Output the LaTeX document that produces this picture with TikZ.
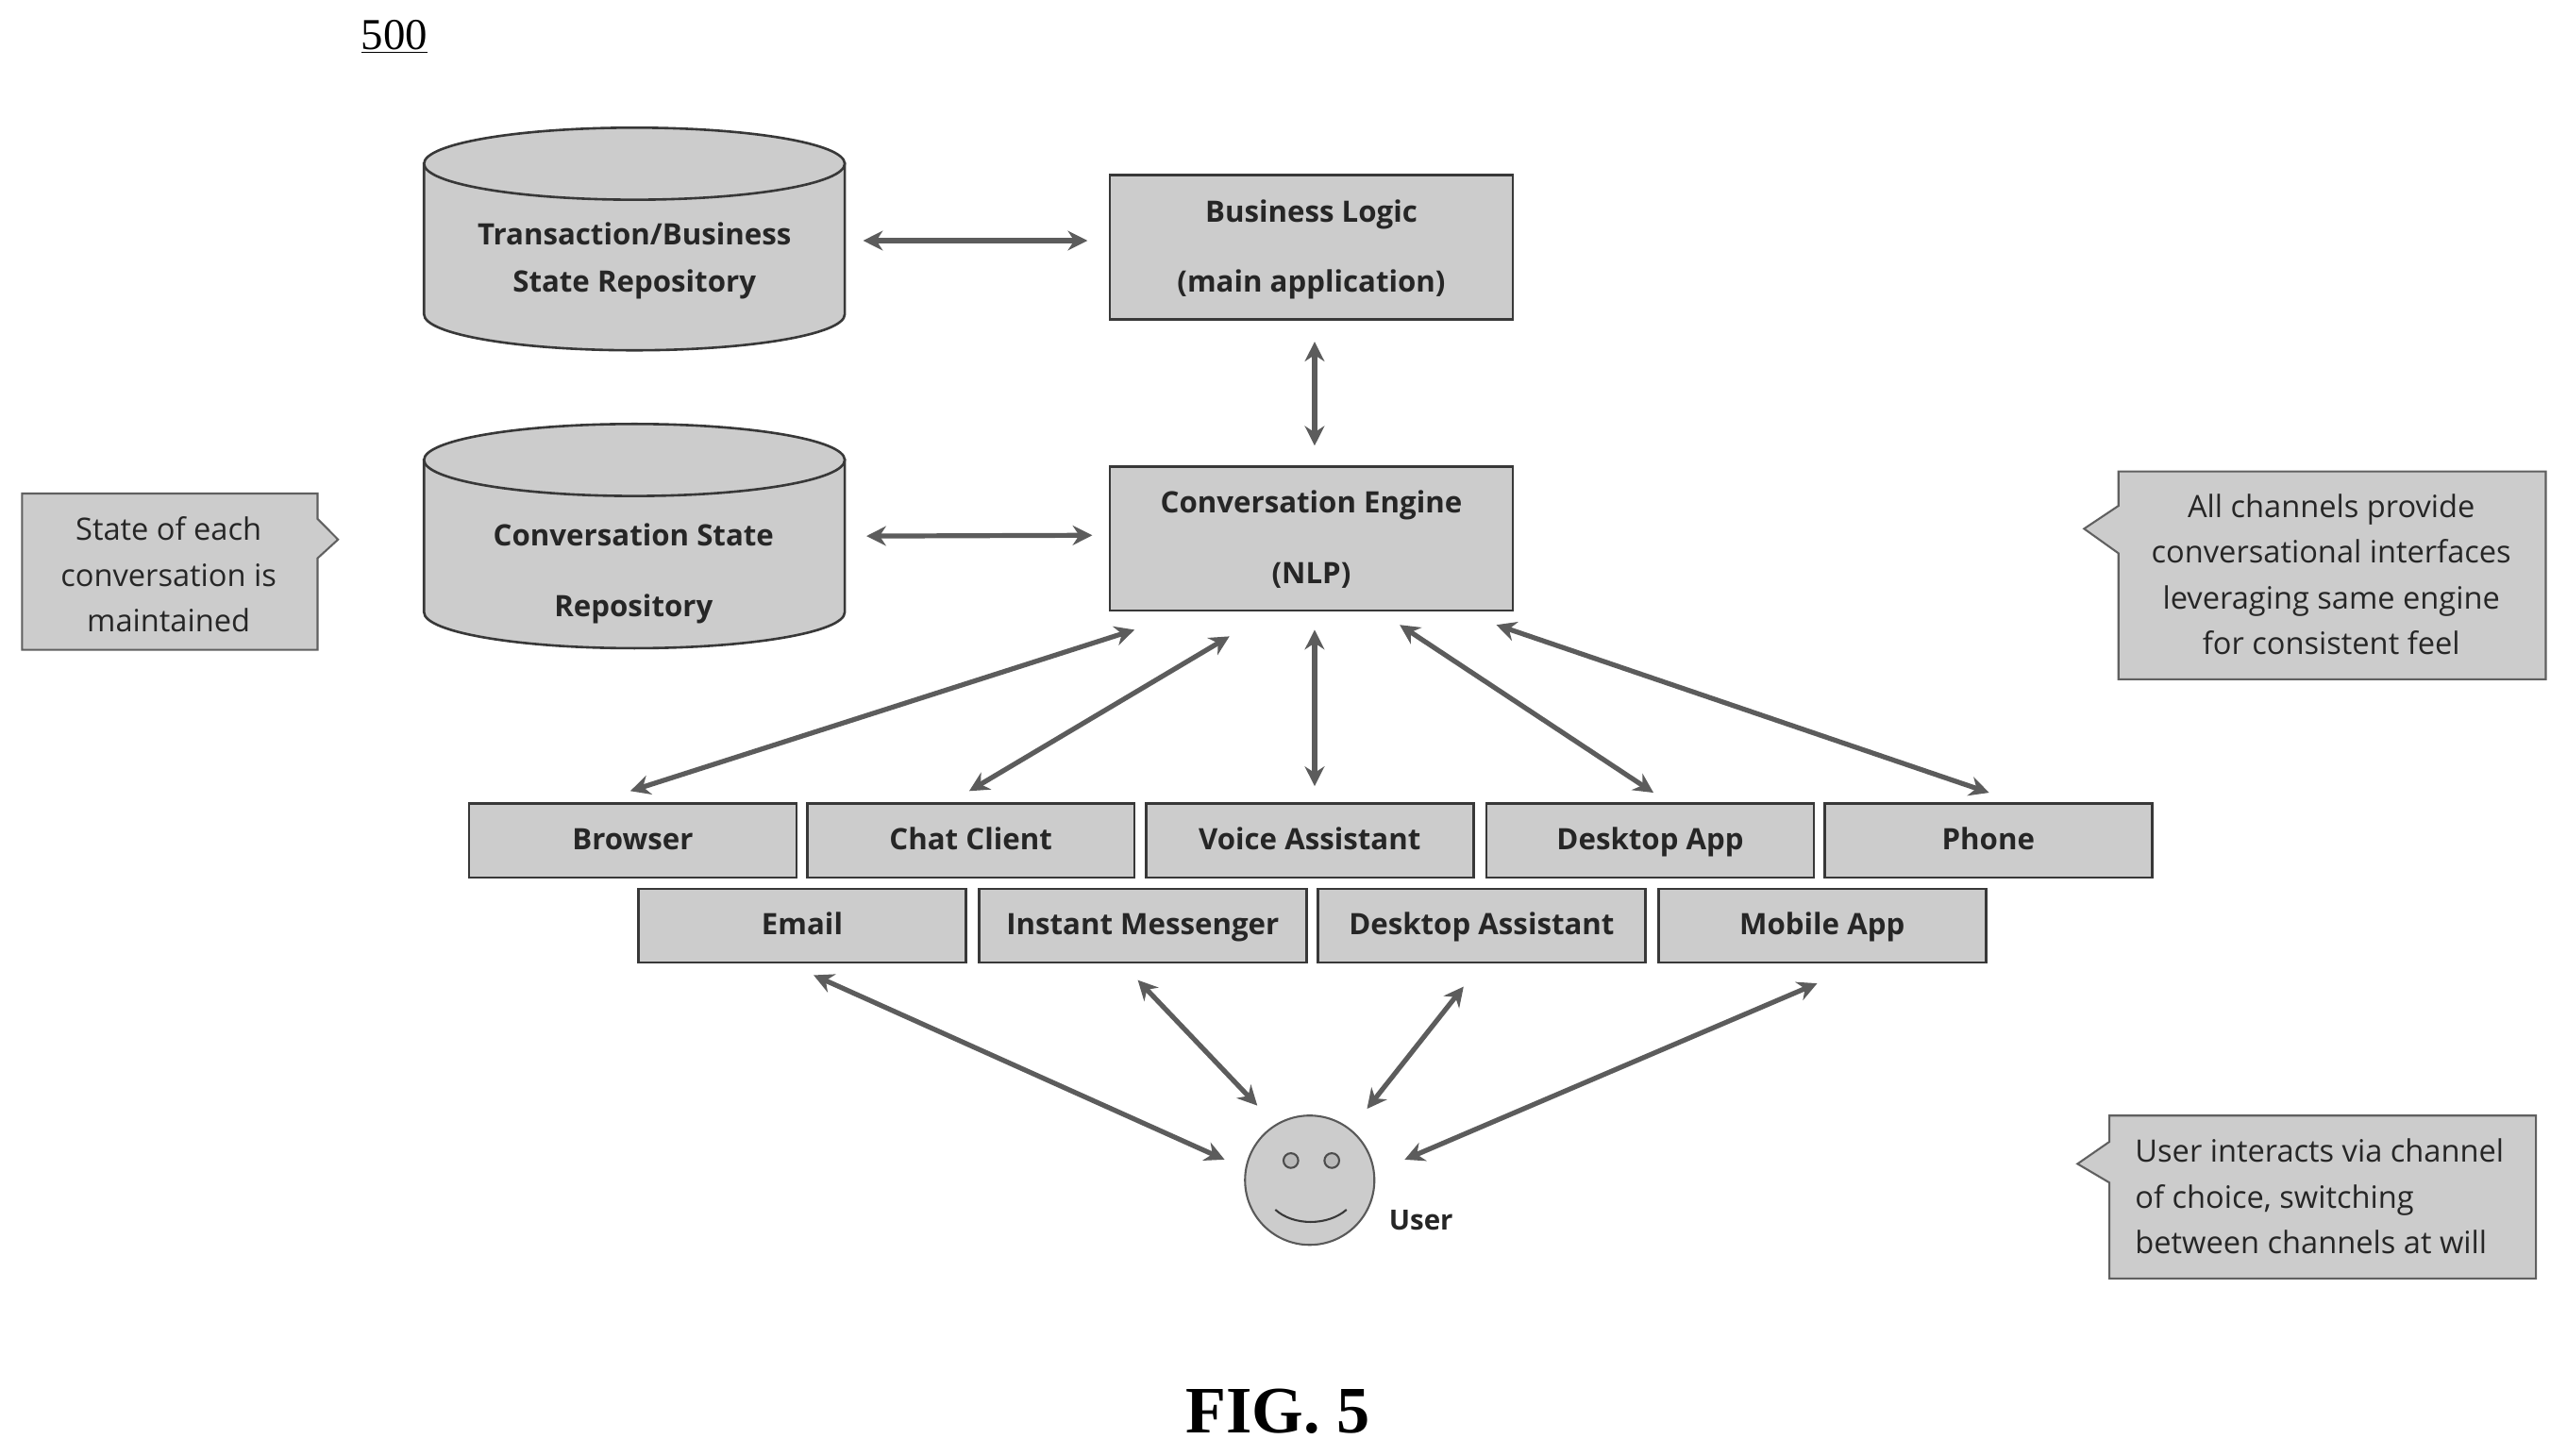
\documentclass[tikz,border=0pt]{standalone}
\usepackage{fontspec}
\setmainfont{Open Sans}
\newfontfamily\timesf{Liberation Serif}
\usetikzlibrary{shapes.geometric,arrows.meta,calc}
\definecolor{fillg}{gray}{0.80}
\definecolor{edgeg}{gray}{0.22}
\definecolor{arrowg}{gray}{0.36}
\definecolor{textg}{gray}{0.15}
\tikzset{
  x=1pt,y=-1pt,
  boxn/.style={draw=edgeg,line width=1.5pt,fill=fillg,rectangle,inner sep=0pt,text=textg,font=\fontsize{18}{22}\selectfont\bfseries,align=center},
  chan/.style={boxn,minimum width=200pt,minimum height=45pt,text height=14.5pt,text depth=3pt},
  main/.style={boxn,minimum width=246pt,minimum height=88pt},
  cyl/.style={draw=edgeg,line width=1.5pt,fill=fillg},
  cylanchor/.style={rectangle,minimum width=257pt,minimum height=136pt,inner sep=0pt},
  cyltext/.style={text=textg,font=\fontsize{18}{22}\selectfont\bfseries,align=center,inner sep=0pt},
  dbl/.style={{Stealth[length=12pt,width=12pt]}-{Stealth[length=12pt,width=12pt]},draw=arrowg,line width=3pt},
  callout/.style={draw=gray!75!black,line width=1.2pt,fill=fillg,line join=miter},
  calltext/.style={text=textg,font=\fontsize{18.8}{28}\selectfont,inner sep=0pt},
}
\begin{document}
\begin{tikzpicture}
\useasboundingbox (0,0) rectangle (1568,889);
\fill[white] (0,0) rectangle (1568,889);

\node[font=\timesf\fontsize{27}{30}\selectfont,text=black,inner sep=0pt] (ref) at (241,22.5) {\underline{500}};

% repositories
\path[cyl] (259,100) -- (259,192) .. controls (259,204.2) and (316.5,214) .. (387.5,214) .. controls (458.5,214) and (516,204.2) .. (516,192) -- (516,100) -- cycle;
\path[cyl] (259,100) .. controls (259,87.8) and (316.5,78) .. (387.5,78) .. controls (458.5,78) and (516,87.8) .. (516,100) .. controls (516,112.2) and (458.5,122) .. (387.5,122) .. controls (316.5,122) and (259,112.2) .. (259,100) -- cycle;
\node[cylanchor] (txrepo) at (387.5,146) {};
\node[cyltext] (txtext) at (387.5,159.5) {Transaction/Business\\[7pt]State Repository};
\path[cyl] (259,281) -- (259,374) .. controls (259,386.2) and (316.5,396) .. (387.5,396) .. controls (458.5,396) and (516,386.2) .. (516,374) -- (516,281) -- cycle;
\path[cyl] (259,281) .. controls (259,268.8) and (316.5,259) .. (387.5,259) .. controls (458.5,259) and (516,268.8) .. (516,281) .. controls (516,293.2) and (458.5,303) .. (387.5,303) .. controls (316.5,303) and (259,293.2) .. (259,281) -- cycle;
\node[cylanchor] (convrepo) at (387.5,327.5) {};
\node[cyltext] (convtext) at (387,350.5) {Conversation State\\[21pt]Repository};

% main boxes
\node[main] (logic) at (801,151) {\rule{0pt}{16.5pt}Business Logic\\[21pt](main application)};
\node[main] (engine) at (801,329) {\rule{0pt}{15pt}Conversation Engine\\[21pt](NLP)};

% channels
\node[chan] (browser) at (386.5,513.5) {Browser};
\node[chan] (chat) at (593,513.5) {Chat Client};
\node[chan] (voice) at (800,513.5) {Voice Assistant};
\node[chan] (desk) at (1008,513.5) {Desktop App};
\node[chan] (phone) at (1214.5,513.5) {Phone};
\node[chan] (email) at (490,565.5) {Email};
\node[chan] (im) at (698,565.5) {Instant Messenger};
\node[chan] (dassist) at (905,565.5) {Desktop Assistant};
\node[chan] (mobile) at (1113,565.5) {Mobile App};

% user
\node[circle,draw=gray!70!black,line width=1.2pt,fill=fillg,minimum size=79pt,inner sep=0pt] (user) at (800,721) {};
\node[circle,draw=gray!60!black,line width=1.2pt,fill=gray!55,minimum size=9pt,inner sep=0pt] (eyeL) at (788.5,709) {};
\node[circle,draw=gray!60!black,line width=1.2pt,fill=gray!55,minimum size=9pt,inner sep=0pt] (eyeR) at (813.5,709) {};
\draw[gray!45!black,line width=1.2pt] (779,739) .. controls (790,749) and (811,749) .. (822.5,739);
\node[font=\fontsize{17}{20}\selectfont\bfseries,text=textg,inner sep=0pt] (userlabel) at (868,745.5) {User};

% connectors
\draw[dbl] ([xshift=11pt,yshift=-1pt]txrepo.east) -- ([xshift=-13pt,yshift=4pt]logic.west);
\draw[dbl] ([xshift=2pt,yshift=-13pt]logic.south) -- ([xshift=2pt,yshift=12pt]engine.north);
\draw[dbl] ([xshift=13pt]convrepo.east) -- ([xshift=-10pt,yshift=2pt]engine.west);
\draw[dbl] ([xshift=-1.5pt,yshift=7pt]browser.north) -- ([xshift=-108pt,yshift=-11pt]engine.south);
\draw[dbl] ([xshift=-1pt,yshift=7pt]chat.north) -- ([xshift=-50pt,yshift=-15pt]engine.south);
\draw[dbl] ([xshift=3pt,yshift=10pt]voice.north) -- ([xshift=2pt,yshift=-11pt]engine.south);
\draw[dbl] ([xshift=2pt,yshift=6pt]desk.north) -- ([xshift=54pt,yshift=-8pt]engine.south);
\draw[dbl] ([xshift=0.5pt,yshift=6pt]phone.north) -- ([xshift=113pt,yshift=-8pt]engine.south);
\draw[dbl] ([xshift=7pt,yshift=-7pt]email.south) -- ([xshift=-52pt,yshift=-27.5pt]user.north);
\draw[dbl] ([xshift=-3pt,yshift=-10pt]im.south) -- ([xshift=-32pt,yshift=5.5pt]user.north);
\draw[dbl] ([xshift=-11pt,yshift=-14pt]dassist.south) -- ([xshift=35pt,yshift=3.5pt]user.north);
\draw[dbl] ([xshift=-3pt,yshift=-12pt]mobile.south) -- ([xshift=58pt,yshift=-27.5pt]user.north);

% callouts
\path[callout] (13.5,301.5) -- (194,301.5) -- (194,317) -- (206.5,329.6) -- (194,341) -- (194,397) -- (13.5,397) -- cycle;
\node[calltext,align=center] (state) at (103,351) {State of each\\conversation is\\maintained};
\path[callout] (1294,288) -- (1555,288) -- (1555,415) -- (1294,415) -- (1294,338) -- (1273,323) -- (1294,309) -- cycle;
\node[calltext,align=center] (channels) at (1424,351) {All channels provide\\conversational interfaces\\leveraging same engine\\for consistent feel};
\path[callout] (1288.5,681.5) -- (1549,681.5) -- (1549,781) -- (1288.5,781) -- (1288.5,722.5) -- (1269,711) -- (1288.5,697.5) -- cycle;
\node[calltext,align=left,anchor=west] (choice) at (1304,731) {User interacts via channel\\of choice, switching\\between channels at will};

\node[font=\timesf\fontsize{40.5}{44}\selectfont\bfseries,text=black,inner sep=0pt] (fig) at (780.5,862.5) {FIG. 5};
\end{tikzpicture}
\end{document}
